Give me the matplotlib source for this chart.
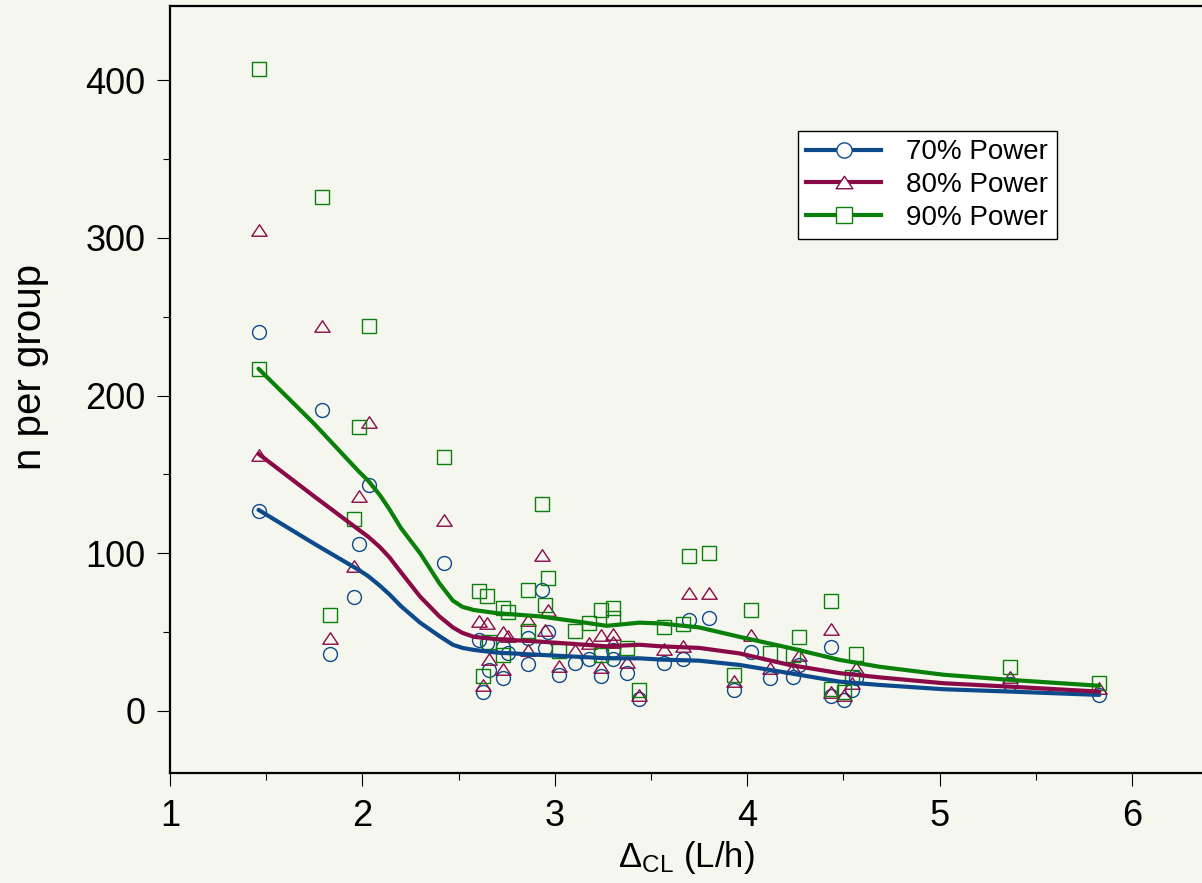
import matplotlib
matplotlib.use("Agg")
import matplotlib.pyplot as plt
from matplotlib.path import Path
from matplotlib.ticker import MultipleLocator

# ── scatter data: one row per delta_cl, n per group at 70/80/90 % power ─────
delta_cl = [1.461, 1.461, 1.788, 1.832, 1.958, 1.981, 2.034, 2.424,
            2.607, 2.626, 2.649, 2.657, 2.731, 2.731, 2.755, 2.862, 2.862,
            2.935, 2.950, 2.964, 3.020, 3.105, 3.180, 3.240, 3.240, 3.305,
            3.300, 3.377, 3.438, 3.568, 3.668, 3.700, 3.803, 3.933, 4.018,
            4.120, 4.236, 4.267, 4.434, 4.434, 4.503, 4.543, 4.567, 5.366,
            5.828]
n70 = [240, 127, 191, 36, 72, 106, 143, 94,
       45, 12, 43, 26, 21, 40.8, 37, 29.8, 46,
       77, 40, 50, 23, 30.7, 33, 22, 37.6, 33,
       38.7, 24, 7.5, 30.7, 33, 58, 59, 13.6, 37.6,
       20.7, 21.5, 29, 40.8, 9.5, 7, 13, 21, 17,
       10.2]
n80 = [305, 162, 244, 46, 92, 136, 183, 121,
       57, 16.5, 55.5, 33, 26.4, 50, 47.5, 38.7, 58,
       99, 51.5, 64, 28.5, 38.5, 43, 28, 48, 43.5,
       49, 31, 10, 39, 41, 74.7, 75, 19, 48,
       27.5, 27.5, 35.6, 52, 12, 10, 18, 27, 21.7,
       14.3]
n90 = [407, 217, 326, 61, 122, 180, 244, 161,
       76, 22, 73, 44, 35.6, 65, 63, 51, 76.5,
       131, 67, 84, 38, 51, 56, 35.6, 64, 59,
       65, 40, 13.3, 53, 55, 98, 100, 23, 64,
       36.5, 35.6, 47, 70, 14, 12.3, 21.7, 36, 27.7,
       17.5]

# ── smoothed trend curves ───────────────────────────────────────────────────
curve_x = [1.46, 1.75, 1.98, 2.03, 2.09, 2.14, 2.20, 2.30, 2.40, 2.47,
           2.52, 2.58, 2.70, 2.92, 3.10, 3.27, 3.44, 3.55, 3.75, 3.96,
           4.22, 4.48, 4.69, 5.02, 5.37, 5.83]
curve70 = [127.5, 106, 89.5, 85.5, 79.5, 74, 66.5, 56, 47.5, 42,
           40, 38.7, 37, 35.6, 34.5, 33.4, 33.4, 32.6, 31.9, 29.2,
           24, 18.6, 16.5, 13.8, 12.3, 10.2]
curve80 = [163, 136, 115, 110.5, 104, 97.5, 88, 72.5, 60, 53,
           49.5, 47, 45.5, 44, 42.5, 41, 42, 41, 40, 36.5,
           29.2, 24, 21.3, 17.6, 15.4, 12.3]
curve90 = [217, 182, 152, 146, 137, 128, 116, 100, 81, 70,
           66, 64, 62, 60, 57, 54, 56, 55.5, 53, 47,
           40, 32.4, 28, 23, 19.7, 16]

labels = ["70% Power", "80% Power", "90% Power"]
colors = ["#0c4a8c", "#8a0a48", "#0a800a"]
BG = "#f5f6ee"

plt.rcParams["font.family"] = ["Liberation Sans", "DejaVu Sans"]
plt.rcParams["mathtext.fontset"] = "custom"
plt.rcParams["mathtext.rm"] = "Liberation Sans"
plt.rcParams["mathtext.it"] = "Liberation Sans:italic"

# triangle marker: full width, 3/4 height, centred on its box
tri = Path([(0, 0.375), (-0.5, -0.375), (0.5, -0.375), (0, 0.375)],
           [Path.MOVETO, Path.LINETO, Path.LINETO, Path.CLOSEPOLY])
markers = [("o", 10), (tri, 11), ("s", 10.5)]

fig = plt.figure(figsize=(12.02, 8.83), dpi=100, facecolor=BG)
ax = fig.add_axes([170 / 1202, 1 - 773 / 883, 1 - 170 / 1202, (773 - 6) / 883])
ax.set_facecolor(BG)

series = [n70, n80, n90]
curves = [curve70, curve80, curve90]
for vals, (mk, ms), col in zip(series, markers, colors):
    ax.plot(delta_cl, vals, linestyle="none", marker=mk, markersize=ms,
            markerfacecolor="none", markeredgecolor=col, markeredgewidth=1.0,
            zorder=2)

handles = []
for cv, (mk, ms), col, lab in zip(curves, markers, colors, labels):
    ax.plot(curve_x, cv, color=col, linewidth=3, solid_joinstyle="round",
            solid_capstyle="round", zorder=3)
    h, = ax.plot([], [], color=col, linewidth=3, marker=mk, markersize=ms + 1,
                 markerfacecolor="white", markeredgecolor=col,
                 markeredgewidth=1.0, label=lab)
    handles.append(h)

ax.set_xlim(1, 1 + (1202 - 170) / 192.4)
ax.set_ylim((711 - 773) / 1.5775, (711 - 6) / 1.5775)

ax.xaxis.set_major_locator(MultipleLocator(1))
ax.xaxis.set_minor_locator(MultipleLocator(0.5))
ax.yaxis.set_major_locator(MultipleLocator(100))
ax.yaxis.set_minor_locator(MultipleLocator(50))
ax.tick_params(which="major", direction="out", length=9.5, width=0.8,
               labelsize=26, colors="black")
ax.tick_params(which="minor", direction="out", length=5, width=0.8)
ax.tick_params(axis="x", which="major", pad=9)
ax.tick_params(axis="y", which="major", pad=8)

ax.spines["right"].set_visible(False)
for s in ("left", "bottom", "top"):
    ax.spines[s].set_linewidth(1.6)

ax.set_xlabel(r"$\Delta_{\mathrm{CL}}$ (L/h)", fontsize=25, labelpad=4)
fig.text(30 / 1202, 1 - 367 / 883, "n per group", rotation=90,
         ha="center", va="center", fontsize=29)

leg = fig.legend(handles=handles, loc="upper left",
                 bbox_to_anchor=(798 / 1202, 1 - 131 / 883),
                 fontsize=20, frameon=True, fancybox=False, edgecolor="black",
                 facecolor="white", framealpha=1, handlelength=2.7,
                 handletextpad=0.9, labelspacing=0.24, borderpad=0.3,
                 borderaxespad=0)
leg.get_frame().set_linewidth(1.0)

fig.savefig("out.png", dpi=100, facecolor=BG)
